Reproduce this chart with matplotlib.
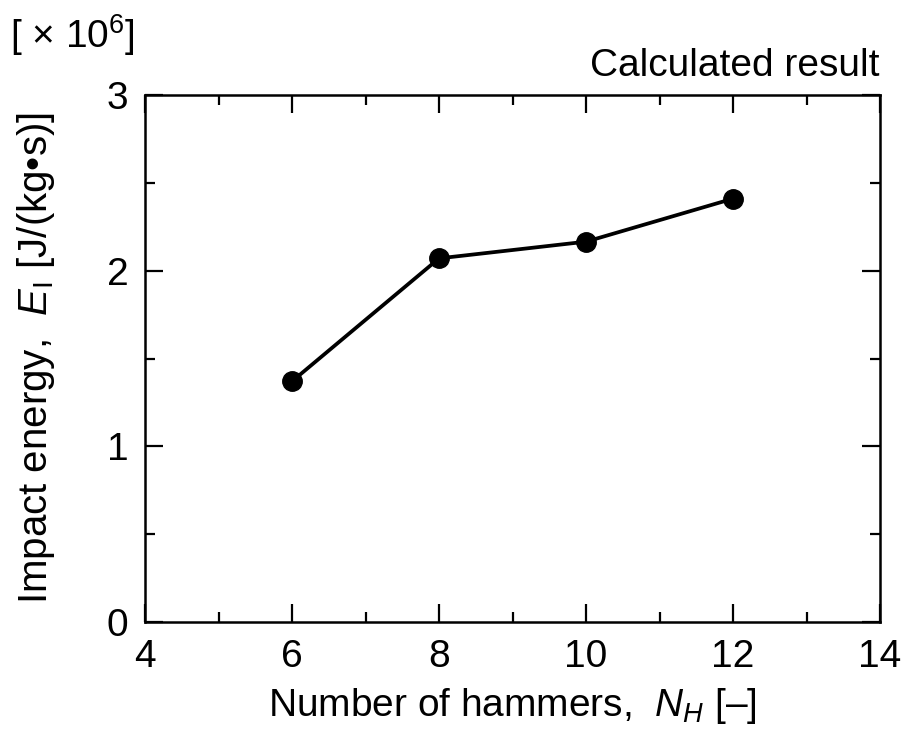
import matplotlib
matplotlib.use("Agg")
import matplotlib.pyplot as plt
from matplotlib.ticker import MultipleLocator

plt.rcParams['font.family'] = ['Liberation Sans', 'DejaVu Sans']
plt.rcParams['mathtext.fontset'] = 'custom'
plt.rcParams['mathtext.rm'] = 'Liberation Sans'
plt.rcParams['mathtext.it'] = 'Liberation Sans:italic'

# --- data ---
n_hammers = [6, 8, 10, 12]
impact_energy = [1.37, 2.07, 2.165, 2.41]  # x 10^6 J/(kg s)

fig = plt.figure(figsize=(9.09, 7.42), dpi=100)
ax = fig.add_axes([145 / 909, 1 - 622 / 742, 735 / 909, 527 / 742])

ax.plot(n_hammers, impact_energy, color='black', lw=2.7,
        marker='o', markersize=14)

ax.set_xlim(4, 14)
ax.set_ylim(0, 3)
ax.xaxis.set_major_locator(MultipleLocator(2))
ax.xaxis.set_minor_locator(MultipleLocator(1))
ax.yaxis.set_major_locator(MultipleLocator(1))
ax.yaxis.set_minor_locator(MultipleLocator(0.5))
ax.tick_params(which='both', direction='in', top=True, right=True,
               labelsize=28, width=1.6)
ax.tick_params(which='major', length=13, pad=12)
ax.tick_params(which='minor', length=7)
for s in ax.spines.values():
    s.set_linewidth(1.8)

ax.set_xlabel(r"Number of hammers,  $N_H$ [–]", fontsize=28, labelpad=8)
ax.set_ylabel(r"Impact energy,  $E_\mathrm{I}$ [J/(kg•s)]", fontsize=29,
              labelpad=36)

ax.text(1.0, 1.02, "Calculated result", transform=ax.transAxes,
        ha='right', va='bottom', fontsize=28)
fig.text(10 / 909, 1 - 35 / 742, "[ × 10$^{6}$]", fontsize=28,
         ha='left', va='center')

fig.savefig("out.png", dpi=100)
